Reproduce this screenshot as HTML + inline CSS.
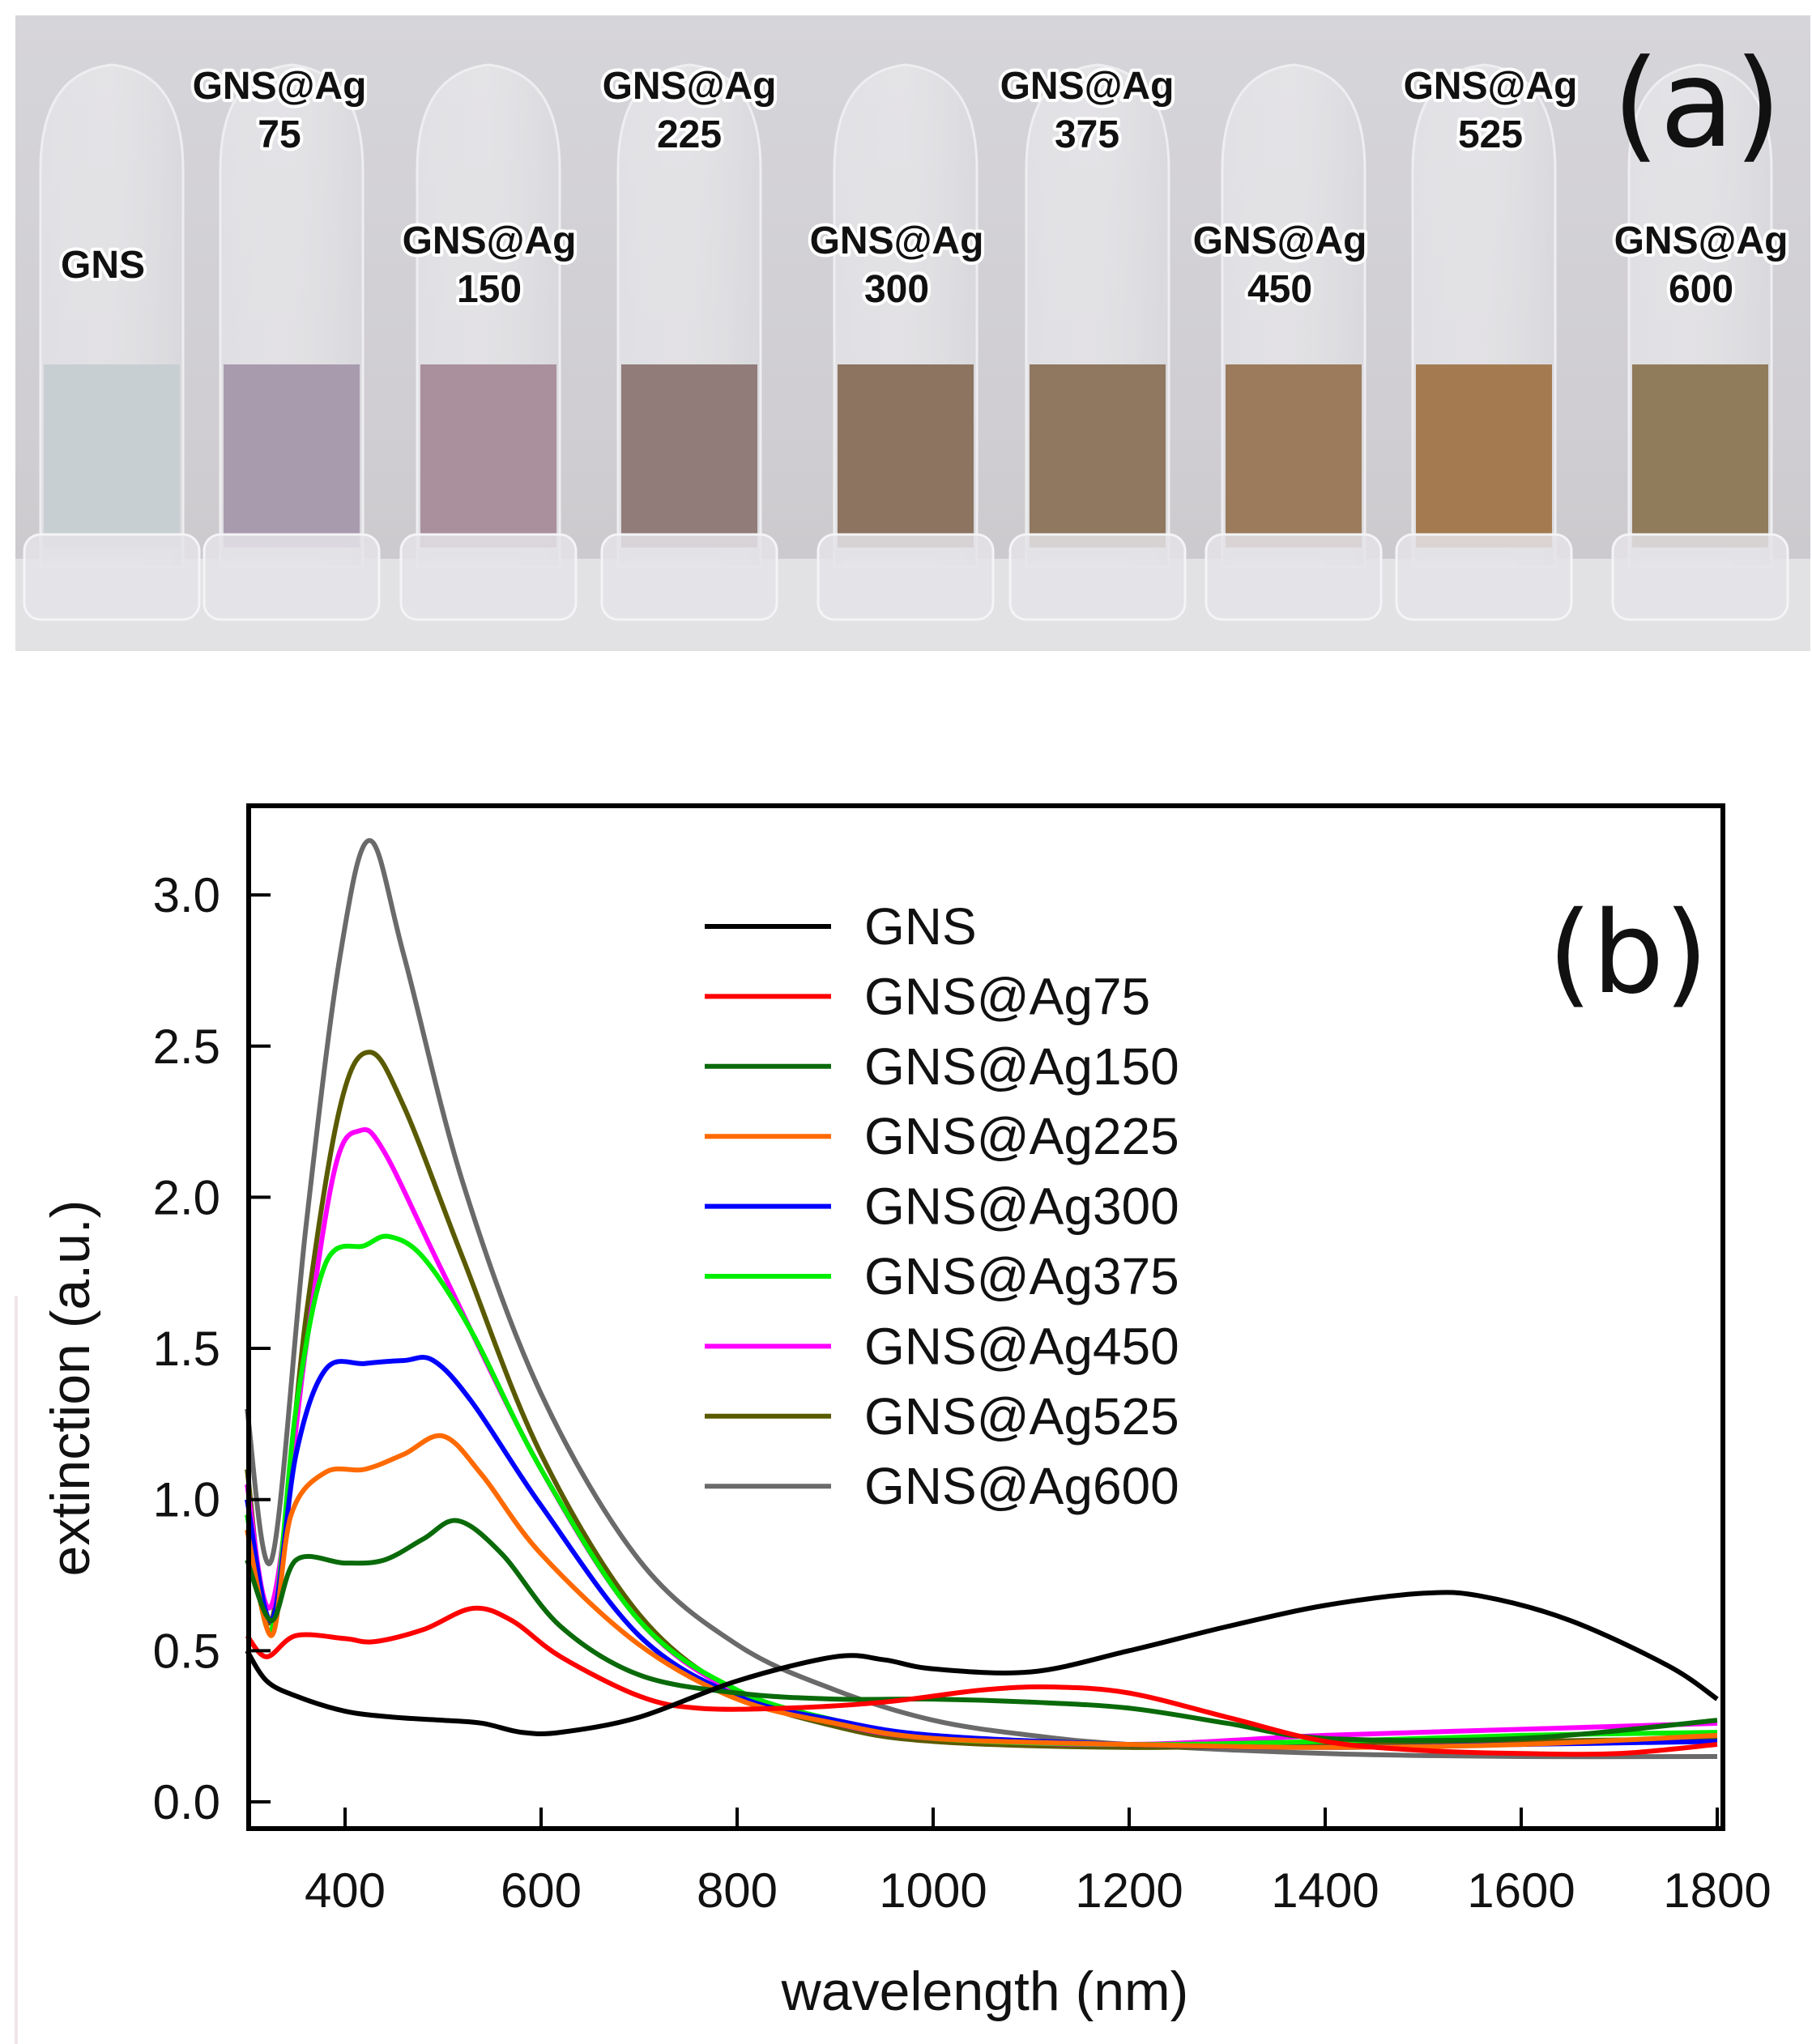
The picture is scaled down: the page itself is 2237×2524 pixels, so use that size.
<!DOCTYPE html>
<html><head><meta charset="utf-8"><style>
html,body{margin:0;padding:0;background:#fff;}
svg{display:block;}
</style></head><body>
<svg id="s" width="2237" height="2524" viewBox="0 0 2237 2524" xmlns="http://www.w3.org/2000/svg">
<defs>
<linearGradient id="bg" x1="0" y1="0" x2="0" y2="1">
<stop offset="0" stop-color="#d6d5d9"/><stop offset="0.7" stop-color="#cfcdd1"/><stop offset="1" stop-color="#c9c7ca"/>
</linearGradient>
<linearGradient id="glass" x1="0" y1="0" x2="1" y2="0">
<stop offset="0" stop-color="#e6e6ea" stop-opacity="0.7"/><stop offset="0.5" stop-color="#f2f2f4" stop-opacity="0.5"/><stop offset="1" stop-color="#dcdce0" stop-opacity="0.7"/>
</linearGradient>
</defs>
<rect x="19" y="19" width="2216" height="785" fill="url(#bg)"/>
<rect x="19" y="690" width="2216" height="114" fill="#e2e1e4"/>
<g id="tubes"></g>
<g font-family="Liberation Sans, sans-serif" font-weight="bold" font-size="48" text-anchor="middle" fill="#111" stroke="#fff" stroke-width="8" paint-order="stroke" stroke-linejoin="round">
<text x="127" y="343">GNS</text>
<text x="345" y="122">GNS@Ag</text><text x="345" y="182">75</text>
<text x="604" y="313">GNS@Ag</text><text x="604" y="373">150</text>
<text x="851" y="122">GNS@Ag</text><text x="851" y="182">225</text>
<text x="1107" y="313">GNS@Ag</text><text x="1107" y="373">300</text>
<text x="1342" y="122">GNS@Ag</text><text x="1342" y="182">375</text>
<text x="1580" y="313">GNS@Ag</text><text x="1580" y="373">450</text>
<text x="1840" y="122">GNS@Ag</text><text x="1840" y="182">525</text>
<text x="2100" y="313">GNS@Ag</text><text x="2100" y="373">600</text>
</g>
<text x="2095" y="180" font-family="DejaVu Sans, sans-serif" font-size="150" text-anchor="middle" fill="#111">(a)</text>
<rect x="18" y="1600" width="4" height="924" fill="#efe6e8"/>
<g id="plot"></g>
<rect x="307" y="995" width="1820" height="1263" fill="none" stroke="#000" stroke-width="6"/>
<g id="ticks" stroke="#000" stroke-width="4"></g>
<g font-family="Liberation Sans, sans-serif" font-size="60" fill="#111">
<g text-anchor="end" id="ylab"></g>
<g text-anchor="middle" id="xlab"></g>
<text x="1216" y="2482" text-anchor="middle" font-size="68">wavelength (nm)</text>
<text transform="translate(110,1714) rotate(-90)" text-anchor="middle" font-size="68">extinction (a.u.)</text>
</g>
<g id="legend" font-family="Liberation Sans, sans-serif" font-size="64" fill="#111"></g>
<text x="2010" y="1225" font-family="DejaVu Sans, sans-serif" font-size="140" text-anchor="middle" fill="#111">(b)</text>
</svg>
<script>
var NS="http://www.w3.org/2000/svg";
function el(t,a,p,txt){var e=document.createElementNS(NS,t);for(var k in a)e.setAttribute(k,a[k]);if(txt!==undefined)e.textContent=txt;p.appendChild(e);return e;}
var tubes=document.getElementById('tubes');
var cx=[138,360,603,851,1118,1355,1597,1832,2099];
var cols=['#c8cfd2','#a99bae','#aa909c','#917c79','#8c7461','#907760','#9b7b5c','#a47b51','#907b5b'];
for(var i=0;i<9;i++){
 var x=cx[i],w=176;
 el('path',{d:'M'+(x-w/2)+' 700 L'+(x-w/2)+' 210 Q'+(x-w/2)+' 90 '+x+' 80 Q'+(x+w/2)+' 90 '+(x+w/2)+' 210 L'+(x+w/2)+' 700 Z',fill:'url(#glass)',stroke:'#eeeef0','stroke-width':3},tubes);
 el('rect',{x:x-w/2+4,y:450,width:w-8,height:226,fill:cols[i]},tubes);
 el('rect',{x:x-w/2-20,y:660,width:w+40,height:105,rx:20,fill:'#e4e3e7','fill-opacity':0.85,stroke:'#f4f4f6','stroke-width':3},tubes);
}
function X(l){return 305+(l-300)*1.21;}
function Y(v){return 2225-v*373.3;}
var ticks=document.getElementById('ticks');
var yl=document.getElementById('ylab'),xl=document.getElementById('xlab');
for(var v=0;v<=3.001;v+=0.5){var y=Y(v);el('line',{x1:307,y1:y,x2:334,y2:y},ticks);el('text',{x:272,y:y+21},yl,v.toFixed(1));}
for(var l=400;l<=1800;l+=200){var x=X(l);el('line',{x1:x,y1:2258,x2:x,y2:2232},ticks);el('text',{x:x,y:2355},xl,String(l));}
var D={
k:[[300,0.5],[320,0.4],[350,0.35],[400,0.3],[450,0.28],[500,0.27],[540,0.26],[580,0.23],[620,0.23],[700,0.28],[800,0.4],[900,0.48],[950,0.47],[1000,0.44],[1100,0.43],[1200,0.5],[1300,0.58],[1400,0.65],[1500,0.69],[1560,0.68],[1650,0.6],[1750,0.45],[1800,0.34]],
r:[[300,0.55],[320,0.48],[350,0.55],[400,0.54],[430,0.53],[480,0.57],[530,0.64],[570,0.6],[620,0.48],[700,0.35],[760,0.31],[850,0.31],[950,0.33],[1050,0.37],[1120,0.38],[1200,0.36],[1300,0.28],[1400,0.2],[1500,0.17],[1600,0.16],[1700,0.16],[1800,0.19]],
g:[[300,0.8],[325,0.6],[350,0.8],[400,0.79],[440,0.8],[480,0.87],[515,0.93],[560,0.82],[620,0.58],[700,0.42],[800,0.36],[900,0.34],[1000,0.34],[1100,0.33],[1200,0.31],[1300,0.26],[1400,0.21],[1600,0.21],[1800,0.27]],
o:[[300,0.9],[325,0.55],[345,0.95],[380,1.09],[420,1.1],[460,1.15],[500,1.21],[540,1.08],[600,0.82],[700,0.52],[800,0.34],[900,0.26],[1000,0.21],[1200,0.19],[1400,0.18],[1600,0.19],[1800,0.22]],
b:[[300,1.0],[325,0.6],[350,1.15],[380,1.43],[420,1.45],[460,1.46],[490,1.46],[530,1.32],[600,0.98],[700,0.55],[800,0.35],[900,0.27],[1000,0.22],[1200,0.19],[1400,0.18],[1600,0.19],[1800,0.2]],
lg:[[300,0.95],[325,0.57],[350,1.3],[380,1.78],[420,1.84],[445,1.87],[480,1.8],[530,1.55],[600,1.1],[700,0.6],[800,0.37],[900,0.27],[1000,0.21],[1200,0.19],[1400,0.2],[1600,0.22],[1800,0.23]],
m:[[300,1.05],[325,0.65],[360,1.5],[390,2.1],[415,2.22],[440,2.15],[500,1.75],[600,1.1],[700,0.6],[800,0.36],[900,0.26],[1000,0.21],[1200,0.19],[1400,0.22],[1600,0.24],[1800,0.26]],
ol:[[300,1.1],[325,0.6],[360,1.6],[395,2.3],[425,2.48],[460,2.3],[520,1.8],[600,1.15],[700,0.62],[800,0.36],[900,0.25],[1000,0.2],[1200,0.18],[1400,0.19],[1600,0.2],[1800,0.21]],
gr:[[300,1.3],[325,0.8],[360,1.9],[395,2.8],[425,3.18],[460,2.8],[520,2.05],[600,1.35],[700,0.8],[800,0.52],[900,0.37],[1000,0.27],[1100,0.22],[1200,0.19],[1400,0.16],[1600,0.15],[1800,0.15]]
};
var S=[['k','#000','GNS'],['r','#ff0000','GNS@Ag75'],['g','#0a6a0a','GNS@Ag150'],['o','#ff6a00','GNS@Ag225'],['b','#0000ff','GNS@Ag300'],['lg','#00ee00','GNS@Ag375'],['m','#ff00ff','GNS@Ag450'],['ol','#5a5a00','GNS@Ag525'],['gr','#6a6a6a','GNS@Ag600']];
var plot=document.getElementById('plot'),leg=document.getElementById('legend');
function path(p){
 var d='M'+X(p[0][0])+' '+Y(p[0][1]);
 for(var i=0;i<p.length-1;i++){
  var p0=p[Math.max(i-1,0)],p1=p[i],p2=p[i+1],p3=p[Math.min(i+2,p.length-1)];
  var c1x=X(p1[0])+(X(p2[0])-X(p0[0]))/6,c1y=Y(p1[1])+(Y(p2[1])-Y(p0[1]))/6;
  var c2x=X(p2[0])-(X(p3[0])-X(p1[0]))/6,c2y=Y(p2[1])-(Y(p3[1])-Y(p1[1]))/6;
  d+=' C'+c1x+' '+c1y+' '+c2x+' '+c2y+' '+X(p2[0])+' '+Y(p2[1]);
 }
 return d;
}
for(var j=S.length-1;j>=0;j--){
 el('path',{d:path(D[S[j][0]]),fill:'none',stroke:S[j][1],'stroke-width':6,'stroke-linejoin':'round'},plot);
}
for(var j=0;j<S.length;j++){
 var y=1144+j*86.4;
 el('line',{x1:870,y1:y,x2:1026,y2:y,stroke:S[j][1],'stroke-width':6},leg);
 el('text',{x:1067,y:y+22},leg,S[j][2]);
}
</script>
</body></html>
